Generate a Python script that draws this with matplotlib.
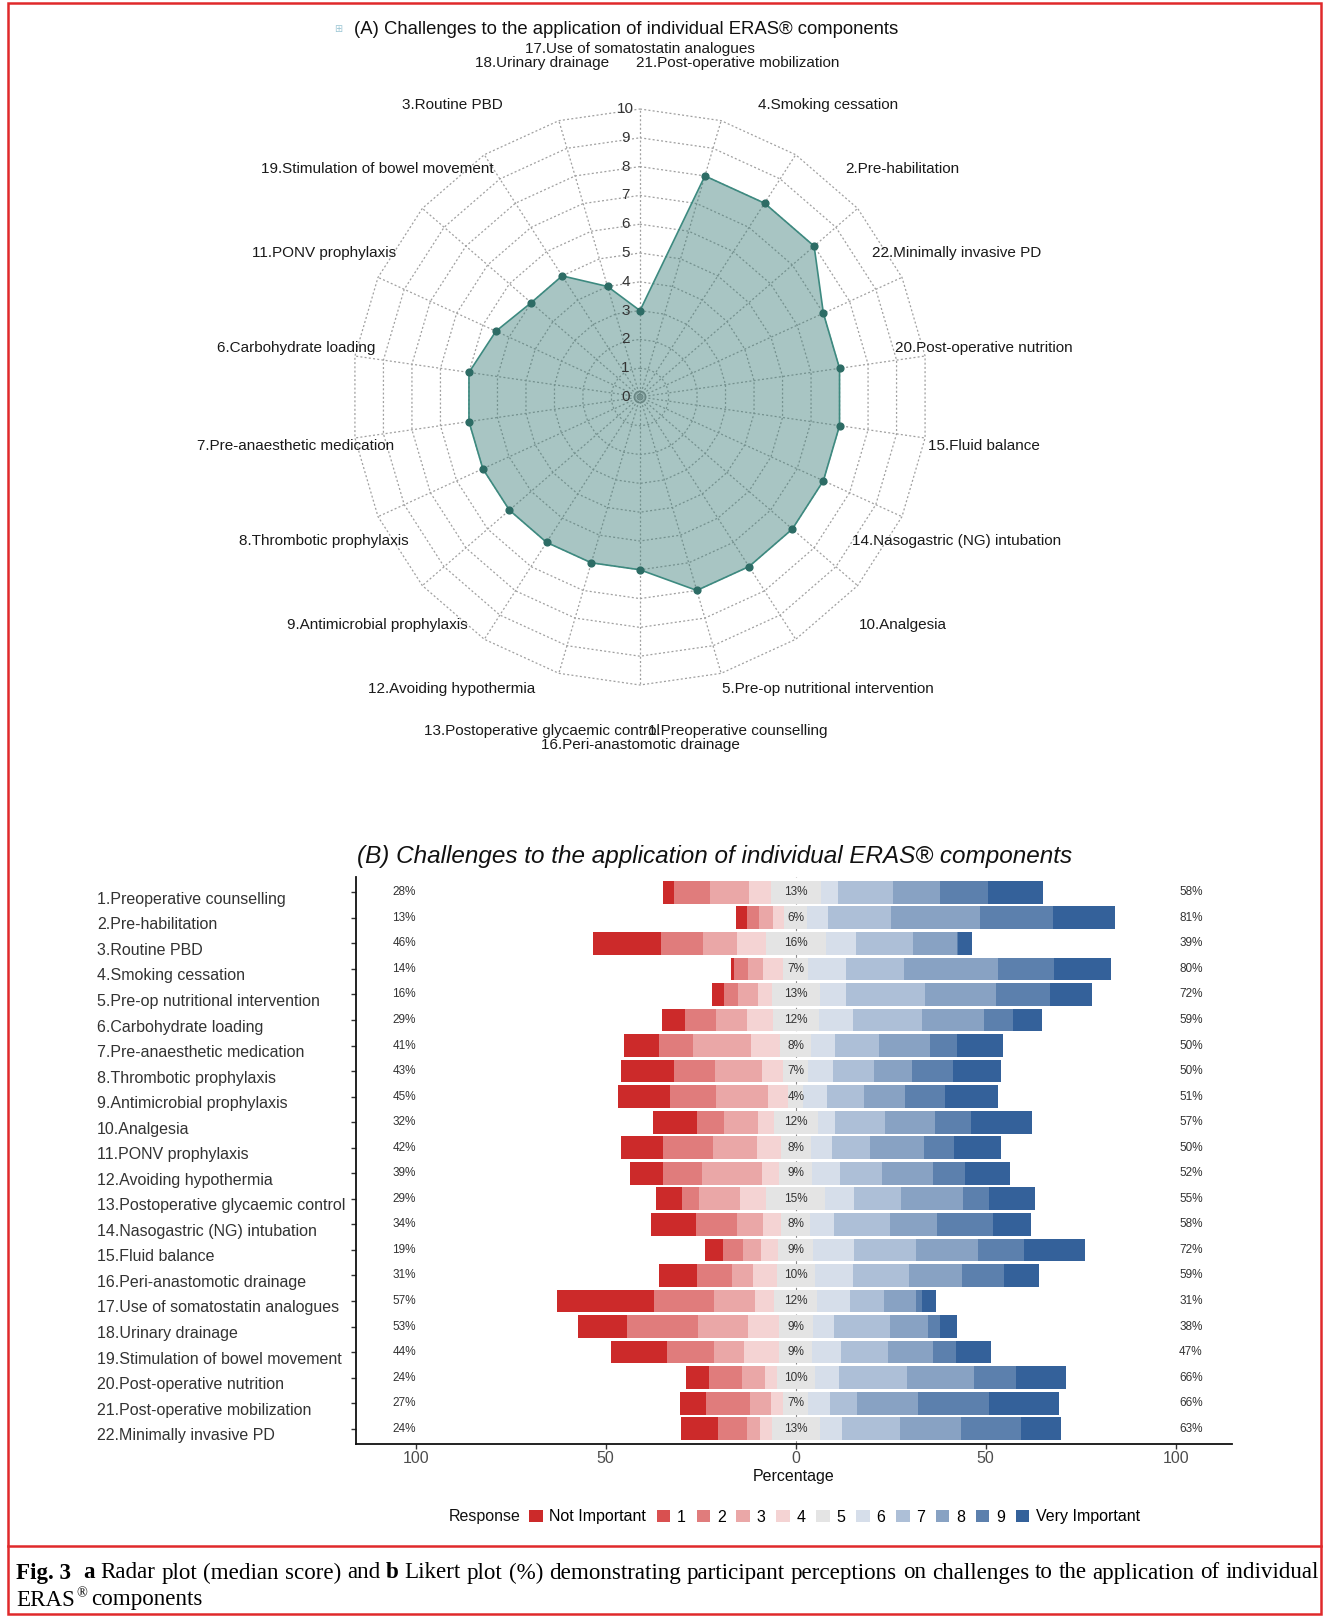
import matplotlib
matplotlib.use("Agg")
import matplotlib.pyplot as plt
import numpy as np
from matplotlib import transforms
from matplotlib.patches import Rectangle, Patch
from matplotlib.lines import Line2D

plt.rcParams["font.family"] = ["Liberation Sans", "DejaVu Sans"]

# ---- data: radar (median score), spokes clockwise from the top ----
radar_labels = [
    "17.Use of somatostatin analogues", "21.Post-operative mobilization",
    "4.Smoking cessation", "2.Pre-habilitation", "22.Minimally invasive PD",
    "20.Post-operative nutrition", "15.Fluid balance",
    "14.Nasogastric (NG) intubation", "10.Analgesia",
    "5.Pre-op nutritional intervention", "1.Preoperative counselling",
    "16.Peri-anastomotic drainage", "13.Postoperative glycaemic control",
    "12.Avoiding hypothermia", "9.Antimicrobial prophylaxis",
    "8.Thrombotic prophylaxis", "7.Pre-anaesthetic medication",
    "6.Carbohydrate loading", "11.PONV prophylaxis",
    "19.Stimulation of bowel movement", "3.Routine PBD", "18.Urinary drainage",
]
radar_median = [3, 8, 8, 8, 7, 7, 7, 7, 7, 7, 7, 6, 6, 6, 6, 6, 6, 6, 5.5, 5, 5, 4]

# ---- data: likert (%) ----
components = [
    "1.Preoperative counselling", "2.Pre-habilitation", "3.Routine PBD",
    "4.Smoking cessation", "5.Pre-op nutritional intervention",
    "6.Carbohydrate loading", "7.Pre-anaesthetic medication",
    "8.Thrombotic prophylaxis", "9.Antimicrobial prophylaxis", "10.Analgesia",
    "11.PONV prophylaxis", "12.Avoiding hypothermia",
    "13.Postoperative glycaemic control", "14.Nasogastric (NG) intubation",
    "15.Fluid balance", "16.Peri-anastomotic drainage",
    "17.Use of somatostatin analogues", "18.Urinary drainage",
    "19.Stimulation of bowel movement", "20.Post-operative nutrition",
    "21.Post-operative mobilization", "22.Minimally invasive PD",
]
levels = ["Not Important", "1", "2", "3", "4", "5", "6", "7", "8", "9", "Very Important"]
level_colors = ["#cc2a2a", "#d95050", "#e07c7c", "#eaa7a7", "#f4d3d3", "#e4e4e4",
                "#d6deea", "#adbfd7", "#88a2c3", "#5c80ad", "#34619a"]

not_important = [2.9, 2.9, 17.9, 0.8, 3.2, 6.1, 9.2, 14.0, 13.7, 11.6, 11.1,
                 8.7, 6.9, 11.7, 4.7, 10.1, 25.7, 13.0, 14.7, 6.2, 6.9, 9.6]
score_1 = [0, 0, 0, 0, 0, 0, 0, 0, 0, 0, 0, 0, 0, 0, 0, 0, 0, 0, 0, 0, 0, 0]
score_2 = [9.5, 3.2, 11.2, 3.7, 3.5, 8.2, 9.1, 10.8, 12.2, 7.1, 13.2,
           10.2, 4.5, 10.8, 5.3, 9.2, 15.7, 18.7, 12.3, 8.5, 11.6, 7.8]
score_3 = [10.1, 3.6, 8.9, 3.8, 5.3, 8.3, 15.3, 12.5, 13.6, 9.1, 11.6,
           15.8, 10.8, 7.0, 4.6, 5.5, 10.9, 13.1, 7.8, 6.1, 5.4, 3.3]
score_4 = [5.8, 2.9, 7.6, 5.3, 3.6, 6.7, 7.6, 5.5, 5.4, 4.1, 6.2,
           4.6, 6.9, 4.7, 4.6, 6.1, 4.9, 8.1, 9.4, 3.1, 3.2, 3.1]
score_5 = [13.2, 6.2, 15.7, 6.7, 12.7, 12.0, 8.2, 6.6, 3.8, 11.5, 7.9,
           8.6, 15.4, 7.7, 9.1, 10.1, 11.4, 9.0, 8.6, 10.0, 6.7, 12.7]
score_6 = [4.5, 5.4, 8.0, 10.0, 6.8, 9.1, 6.3, 6.4, 6.3, 4.6, 5.5,
           7.4, 7.7, 6.3, 10.9, 10.1, 8.7, 5.6, 7.5, 6.4, 5.7, 5.8]
score_7 = [14.6, 16.5, 15.0, 15.2, 20.8, 18.0, 11.4, 10.9, 9.9, 13.1, 10.2,
           10.9, 12.3, 14.6, 16.2, 14.7, 8.7, 14.6, 12.6, 17.8, 7.0, 15.2]
score_8 = [12.3, 23.5, 11.5, 24.8, 18.8, 16.5, 13.6, 10.1, 10.7, 13.2, 14.1,
           13.4, 16.3, 12.4, 16.2, 14.0, 8.6, 10.1, 11.7, 17.7, 16.2, 16.1]
score_9 = [12.5, 19.1, 0.4, 14.7, 14.1, 7.6, 7.0, 10.8, 10.5, 9.4, 7.8,
           8.6, 6.8, 14.8, 12.3, 10.9, 1.5, 3.1, 6.1, 11.0, 18.6, 15.9]
very_important = [14.5, 16.5, 3.7, 14.9, 11.2, 7.5, 12.1, 12.4, 13.9, 16.1, 12.4,
                  11.7, 12.2, 10.0, 16.1, 9.2, 3.7, 4.5, 9.3, 13.1, 18.5, 10.5]

low_pct = [28, 13, 46, 14, 16, 29, 41, 43, 45, 32, 42, 39, 29, 34, 19, 31, 57, 53, 44, 24, 27, 24]
mid_pct = [13, 6, 16, 7, 13, 12, 8, 7, 4, 12, 8, 9, 15, 8, 9, 10, 12, 9, 9, 10, 7, 13]
high_pct = [58, 81, 39, 80, 72, 59, 50, 50, 51, 57, 50, 52, 55, 58, 72, 59, 31, 38, 47, 66, 66, 63]

W, H = 1325, 1616
fig = plt.figure(figsize=(W / 100, H / 100), dpi=100)


def fx(px):
    return px / W


def fy(py):
    return 1 - py / H


# ================= (A) radar =================
R_PX = 28.8  # pixels per score unit
cx, cy = 640, 397
ax_r = fig.add_axes([fx(cx - 12.5 * R_PX), fy(cy + 12.5 * R_PX), 25 * R_PX / W, 25 * R_PX / H])
ax_r.set_xlim(-12.5, 12.5)
ax_r.set_ylim(-12.5, 12.5)
ax_r.axis("off")

n = len(radar_labels)
theta = 2 * np.pi * np.arange(n) / n
theta_c = np.append(theta, theta[0])
grid_kw = dict(color="#a0a0a0", lw=0.9, ls=(0, (1.6, 1.8)), zorder=1)
for r in range(1, 11):
    ax_r.plot(r * np.sin(theta_c), r * np.cos(theta_c), **grid_kw)
for t in theta:
    ax_r.plot([0, 10 * np.sin(t)], [0, 10 * np.cos(t)], **grid_kw)
circ = np.linspace(0, 2 * np.pi, 60)
for rr in (0.1, 0.2):
    ax_r.plot(rr * np.sin(circ), rr * np.cos(circ), color="#8a8a8a", lw=0.9, zorder=1)

vals = np.array(radar_median + radar_median[:1], dtype=float)
ax_r.fill(vals * np.sin(theta_c), vals * np.cos(theta_c), facecolor="#3f7f7a", alpha=0.45,
          edgecolor="none", zorder=2)
ax_r.plot(vals * np.sin(theta_c), vals * np.cos(theta_c), color="#3d8a80", lw=1.2, zorder=3)
ax_r.scatter(np.array(radar_median) * np.sin(theta), np.array(radar_median) * np.cos(theta),
             s=24, color="#2d6c65", zorder=4)

for r in range(0, 11):
    ax_r.text(-0.5, r, str(r), ha="center", va="center", fontsize=11, color="#333333", zorder=5)

for t, lab in zip(theta, radar_labels):
    ax_r.text(12.07 * np.sin(t), 12.07 * np.cos(t), lab, ha="center", va="center",
              fontsize=11, color="#1a1a1a")

fig.text(fx(338), fy(29), "\u229e", family="DejaVu Sans", fontsize=7, color="#9cc6d4",
         ha="center", va="center")
fig.text(fx(354), fy(30), "(A) Challenges to the application of individual ERAS\u00ae components",
         fontsize=13.3, ha="left", va="center", color="#111111")

# ================= (B) likert =================
ax = fig.add_axes([fx(356), fy(1444), (1232 - 356) / W, (1444 - 877) / H])
rows = np.arange(1, len(components) + 1)
series = [not_important, score_1, score_2, score_3, score_4, score_5,
          score_6, score_7, score_8, score_9, very_important]
series = [np.array(s, dtype=float) for s in series]
left = -(series[0] + series[1] + series[2] + series[3] + series[4] + series[5] / 2)
for vals_b, col in zip(series, level_colors):
    ax.barh(rows, vals_b, left=left, height=0.89, color=col, lw=0, zorder=2)
    left = left + vals_b

ax.axvline(0, color="#8a8a8a", lw=0.8, ls=(0, (3, 3)), zorder=1)
ax.set_xlim(-115.7, 114.8)
ax.set_ylim(22.6, 0.4)

for row, lo, mi, hi in zip(rows, low_pct, mid_pct, high_pct):
    ax.text(-103, row, f"{lo}%", ha="center", va="center", fontsize=8.5, color="#333333", zorder=3)
    ax.text(0, row, f"{mi}%", ha="center", va="center", fontsize=8.5, color="#333333", zorder=3)
    ax.text(104, row, f"{hi}%", ha="center", va="center", fontsize=8.5, color="#333333", zorder=3)

lab_tr = transforms.blended_transform_factory(fig.transFigure, ax.transData) + \
    transforms.ScaledTranslation(0, -0.07, fig.dpi_scale_trans)
for row, name in zip(rows, components):
    ax.text(fx(97), row, name, transform=lab_tr, ha="left", va="center",
            fontsize=11.5, color="#333333")

ax.set_yticks(rows)
ax.set_yticklabels([])
ax.set_xticks([-100, -50, 0, 50, 100])
ax.set_xticklabels(["100", "50", "0", "50", "100"])
ax.tick_params(axis="both", length=3.5, width=1, color="#333333", labelsize=11.5,
               labelcolor="#4d4d4d", pad=1.5)
for s in ("top", "right"):
    ax.spines[s].set_visible(False)
for s in ("left", "bottom"):
    ax.spines[s].set_linewidth(1.3)
    ax.spines[s].set_color("#111111")
ax.set_xlabel("Percentage", fontsize=11.5, color="#111111", labelpad=2)

fig.text(fx(357), fy(856), "(B) Challenges to the application of individual ERAS\u00ae components",
         fontsize=17.5, style="italic", ha="left", va="center", color="#111111")

fig.text(fx(449), fy(1517), "Response", fontsize=11.5, ha="left", va="center", color="#111111")
handles = [Patch(facecolor=c, edgecolor="none") for c in level_colors]
fig.legend(handles, levels, ncol=len(levels), loc="center left",
           bbox_to_anchor=(fx(529), fy(1517)), frameon=False, fontsize=11.5,
           handlelength=0.85, handleheight=0.85, handletextpad=0.42,
           columnspacing=0.67, borderpad=0, borderaxespad=0)

# ================= caption and frame =================
fig.add_artist(Rectangle((fx(8), fy(1614)), fx(1321) - fx(8), fy(3) - fy(1614),
                         transform=fig.transFigure, fill=False, edgecolor="#e0292b", lw=1.8))
fig.add_artist(Line2D([fx(8), fx(1321)], [fy(1546), fy(1546)], transform=fig.transFigure,
                      color="#e0292b", lw=1.8))

renderer = fig.canvas.get_renderer()
serif = "Liberation Serif"
line1 = [("Fig. 3", "bold"), ("a", "bold"), ("Radar", "normal"), ("plot", "normal"),
         ("(median", "normal"), ("score)", "normal"), ("and", "normal"), ("b", "bold"),
         ("Likert", "normal"), ("plot", "normal"), ("(%)", "normal"), ("demonstrating", "normal"),
         ("participant", "normal"), ("perceptions", "normal"), ("on", "normal"),
         ("challenges", "normal"), ("to", "normal"), ("the", "normal"), ("application", "normal"),
         ("of", "normal"), ("individual", "normal")]
cap_size = 14.0
x0, x1 = 16.5, 1319
words = []
for txt, wt in line1:
    t = fig.text(0, 0, txt, fontsize=cap_size, weight=wt, family=serif)
    words.append((t, t.get_window_extent(renderer).width))
space = 0.25 * cap_size * 100 / 72
natural = sum(w for _, w in words) + space * (len(words))
cap_size = cap_size * (x1 - x0) / natural
for t, _ in words:
    t.set_fontsize(cap_size)
widths = [t.get_window_extent(renderer).width for t, _ in words]
gap = (x1 - x0 - sum(widths)) / len(words)  # one extra gap after "Fig. 3"
xpos = x0
for i, (t, _) in enumerate(words):
    t.set_position((fx(xpos), fy(1573)))
    t.set_va("center")
    xpos += widths[i] + gap * (2 if i == 0 else 1)

t_eras = fig.text(fx(16.5), fy(1600), "ERAS", fontsize=cap_size, family=serif, va="center")
w_eras = t_eras.get_window_extent(renderer).width
t_r = fig.text(fx(16.5 + w_eras + 1), fy(1594), "\u00ae", fontsize=cap_size * 0.62,
               family=serif, va="center")
w_r = t_r.get_window_extent(renderer).width
fig.text(fx(16.5 + w_eras + w_r + 5), fy(1600), "components", fontsize=cap_size,
         family=serif, va="center")

fig.savefig("out.png", dpi=100)
